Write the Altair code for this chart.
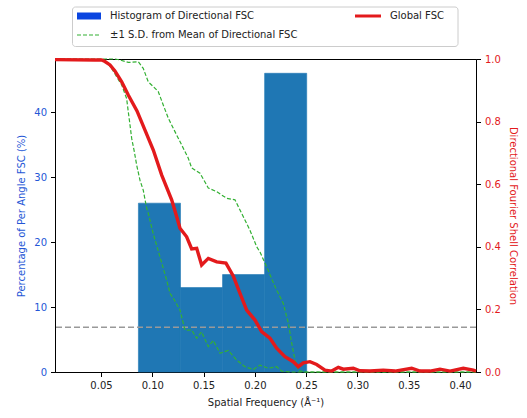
import altair as alt
import pandas as pd

# ---------------- data ----------------
bin_start = [0.0865, 0.1275, 0.1685, 0.2095]
bin_end = [0.1275, 0.1685, 0.2095, 0.2505]
bin_pct = [26, 13, 15, 46]

global_x = [0.0052, 0.0442, 0.0507, 0.0539, 0.0588, 0.0636, 0.0702, 0.0766, 0.0851, 0.0929,
            0.1010, 0.1092, 0.1189, 0.1238, 0.1270, 0.1335, 0.1384, 0.1433, 0.1481, 0.1546,
            0.1628, 0.1718, 0.1789, 0.1855, 0.1920, 0.2001, 0.2066, 0.2147, 0.2212, 0.2293,
            0.2374, 0.2423, 0.2472, 0.2537, 0.2602, 0.2683, 0.2749, 0.2813, 0.2862, 0.2959,
            0.3024, 0.3122, 0.3251, 0.3366, 0.3528, 0.3609, 0.3707, 0.3804, 0.3902, 0.4031,
            0.4129, 0.4155]
global_y = [0.998, 0.997, 0.997, 0.992, 0.981, 0.962, 0.927, 0.885, 0.834, 0.773,
            0.709, 0.629, 0.550, 0.496, 0.459, 0.432, 0.393, 0.395, 0.342, 0.363,
            0.352, 0.348, 0.307, 0.251, 0.198, 0.166, 0.129, 0.108, 0.076, 0.049,
            0.033, 0.017, 0.029, 0.033, 0.024, 0.006, 0.003, 0.015, 0.009, 0.012,
            0.004, 0.003, 0.006, 0.003, 0.012, 0.003, 0.003, 0.009, 0.003, 0.012,
            0.006, 0.003]

upper_x = [0.0052, 0.0636, 0.0685, 0.0766, 0.0864, 0.0912, 0.0961, 0.1010, 0.1058, 0.1107,
           0.1156, 0.1221, 0.1287, 0.1351, 0.1384, 0.1465, 0.1546, 0.1628, 0.1725, 0.1806,
           0.1871, 0.1952, 0.2018, 0.2050, 0.2115, 0.2196, 0.2277, 0.2326, 0.2359, 0.2391,
           0.2423, 0.2488, 0.3000, 0.3500, 0.4000, 0.4155]
upper_y = [1.0, 1.0, 0.997, 0.989, 0.991, 0.970, 0.927, 0.912, 0.896, 0.853,
           0.811, 0.768, 0.725, 0.683, 0.652, 0.635, 0.588, 0.576, 0.555, 0.550,
           0.507, 0.453, 0.400, 0.383, 0.336, 0.273, 0.219, 0.156, 0.092, 0.038,
           0.005, 0.0, 0.0, 0.0, 0.0, 0.0]

lower_x = [0.0052, 0.0507, 0.0556, 0.0604, 0.0653, 0.0702, 0.0750, 0.0766, 0.0783, 0.0799,
           0.0825, 0.0848, 0.0880, 0.0912, 0.0945, 0.0961, 0.1010, 0.1075, 0.1140, 0.1173,
           0.1205, 0.1270, 0.1319, 0.1384, 0.1433, 0.1481, 0.1546, 0.1595, 0.1660, 0.1741,
           0.1823, 0.1904, 0.1984, 0.2050, 0.2131, 0.2212, 0.2261, 0.2342, 0.3000, 0.3500,
           0.4000, 0.4155]
lower_y = [1.0, 0.997, 0.991, 0.970, 0.943, 0.917, 0.874, 0.832, 0.789, 0.747,
           0.704, 0.661, 0.613, 0.581, 0.524, 0.507, 0.441, 0.368, 0.294, 0.251,
           0.236, 0.198, 0.134, 0.134, 0.108, 0.128, 0.081, 0.101, 0.060, 0.069,
           0.038, 0.017, 0.008, 0.022, 0.012, 0.017, 0.003, 0.0, 0.0, 0.0,
           0.0, 0.0]

threshold = [0.143]
x_ticks = [0.05, 0.10, 0.15, 0.20, 0.25, 0.30, 0.35, 0.40]
left_ticks = [0, 10, 20, 30, 40]
right_ticks = [0.0, 0.2, 0.4, 0.6, 0.8, 1.0]

legend_labels = ["Histogram of Directional FSC", "\u00b11 S.D. from Mean of Directional FSC", "Global FSC"]

# ---------------- styling ----------------
FONT = "DejaVu Sans"
BLUE_TXT = "#2456d6"
RED = "#e31a1c"
GREEN = "#33b033"
BAR = "#1f77b4"

hist_df = pd.DataFrame({"x": bin_start, "x1": bin_end, "pct": bin_pct})
glob_df = pd.DataFrame({"x": global_x, "value": global_y})
up_df = pd.DataFrame({"x": upper_x, "value": upper_y})
lo_df = pd.DataFrame({"x": lower_x, "value": lower_y})
thr_df = pd.DataFrame({"value": threshold})
one = pd.DataFrame({"a": [0]})

xscale = alt.Scale(domain=[0.0052, 0.4155], nice=False, zero=False)
yr_scale = alt.Scale(domain=[0, 1], nice=False)

x_axis = alt.Axis(values=x_ticks, format=".2f", title="Spatial Frequency (\u00c5\u207b\u00b9)",
                  titlePadding=7, labelPadding=4, labelColor="#222222", titleColor="#222222",
                  orient="bottom")
X = alt.X("x:Q", scale=xscale, axis=x_axis)

bars = alt.Chart(hist_df).mark_rect(color=BAR, opacity=1, stroke=BAR, strokeWidth=0.6).encode(
    x=X,
    x2="x1:Q",
    y=alt.Y("pct:Q", scale=alt.Scale(domain=[0, 48.2], nice=False),
            axis=alt.Axis(values=left_ticks, title="Percentage of Per Angle FSC (%)",
                          labelColor=BLUE_TXT, titleColor=BLUE_TXT, orient="left",
                          titlePadding=7, labelPadding=4)),
    y2=alt.datum(0),
)

r_axis = alt.Axis(values=right_ticks, format=".1f", orient="right",
                  title="Directional Fourier Shell Correlation",
                  labelColor=RED, titleColor=RED, titlePadding=7, labelPadding=4)
Yr = alt.Y("value:Q", scale=yr_scale, axis=r_axis)

thr = alt.Chart(thr_df).mark_rule(color="#999999", strokeWidth=1.5, strokeDash=[6, 3]).encode(y=Yr)
upper = alt.Chart(up_df).mark_line(color=GREEN, strokeWidth=1.2, strokeDash=[4, 2]).encode(x=X, y=Yr)
lower = alt.Chart(lo_df).mark_line(color=GREEN, strokeWidth=1.2, strokeDash=[4, 2]).encode(x=X, y=Yr)
glob = alt.Chart(glob_df).mark_line(color=RED, strokeWidth=3.4).encode(x=X, y=Yr)

# ---------------- legend (drawn above plot) ----------------
box = alt.Chart(one).mark_rect(fill="white", stroke="#cccccc", strokeWidth=1, cornerRadius=3).encode(
    x=alt.value(17.5), x2=alt.value(403), y=alt.value(-52), y2=alt.value(-12.5))
patch = alt.Chart(one).mark_rect(color="#0a45e0").encode(
    x=alt.value(22), x2=alt.value(46), y=alt.value(-46.5), y2=alt.value(-39.5))
gdash = alt.Chart(one).mark_rule(color=GREEN, strokeWidth=1.2, strokeDash=[4, 2]).encode(
    x=alt.value(22), x2=alt.value(46), y=alt.value(-24))
rline = alt.Chart(one).mark_rule(color=RED, strokeWidth=3).encode(
    x=alt.value(300), x2=alt.value(326), y=alt.value(-43))
t1 = alt.Chart(one).mark_text(text=legend_labels[0], align="left", baseline="middle", font=FONT,
                              fontSize=10, color="#222222").encode(x=alt.value(55), y=alt.value(-43))
t2 = alt.Chart(one).mark_text(text=legend_labels[1], align="left", baseline="middle", font=FONT,
                              fontSize=10, color="#222222").encode(x=alt.value(55), y=alt.value(-24))
t3 = alt.Chart(one).mark_text(text=legend_labels[2], align="left", baseline="middle", font=FONT,
                              fontSize=10, color="#222222").encode(x=alt.value(335), y=alt.value(-43))

right = alt.layer(thr, upper, lower, glob)
legend = alt.layer(box, patch, gdash, rline, t1, t2, t3)

chart = alt.layer(bars, right, legend).resolve_scale(y="independent").properties(
    width=421, height=313,
    padding={"left": 55, "top": 59, "right": 51, "bottom": 46},
    autosize=alt.AutoSizeParams(type="none"),
).configure_view(stroke="black", strokeWidth=1).configure_axis(
    labelFont=FONT, titleFont=FONT, labelFontSize=10, titleFontSize=10, titleFontWeight="normal",
    domainColor="black", tickColor="black", tickSize=4.5, grid=False,
).configure_axisX(labelFlush=False)

chart.save("out.html", embed_options={"renderer": "svg", "actions": False})
